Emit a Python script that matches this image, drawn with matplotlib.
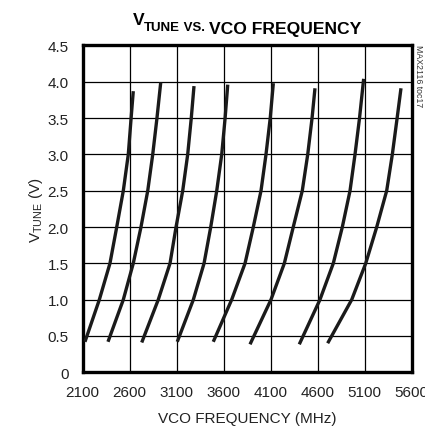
import numpy as np
import matplotlib
matplotlib.use('Agg')
import matplotlib.pyplot as plt

plt.rcParams['font.family'] = ['Liberation Sans Narrow', 'Liberation Sans', 'DejaVu Sans']

# VCO tuning curves: (frequency MHz, tuning voltage V)
vco_freq = [
    [2124, 2277, 2390, 2462, 2532, 2585, 2615, 2638],
    [2369, 2532, 2638, 2720, 2792, 2845, 2890, 2930],
    [2728, 2904, 3029, 3093, 3164, 3217, 3255, 3284],
    [3106, 3277, 3391, 3462, 3526, 3579, 3615, 3643],
    [3489, 3685, 3827, 3915, 3997, 4050, 4095, 4128],
    [3880, 4103, 4245, 4340, 4436, 4494, 4540, 4571],
    [4404, 4624, 4766, 4862, 4944, 4997, 5045, 5089],
    [4706, 4962, 5111, 5228, 5334, 5394, 5445, 5486],
]
vtune = [
    [0.42, 1.0, 1.5, 2.0, 2.5, 3.0, 3.5, 3.87],
    [0.42, 1.0, 1.5, 2.0, 2.5, 3.0, 3.5, 3.99],
    [0.41, 1.0, 1.5, 2.0, 2.5, 3.0, 3.5, 3.94],
    [0.42, 1.0, 1.5, 2.0, 2.5, 3.0, 3.5, 3.96],
    [0.42, 1.0, 1.5, 2.0, 2.5, 3.0, 3.5, 3.98],
    [0.385, 1.0, 1.5, 2.0, 2.5, 3.0, 3.5, 3.91],
    [0.385, 1.0, 1.5, 2.0, 2.5, 3.0, 3.5, 4.04],
    [0.40, 1.0, 1.5, 2.0, 2.5, 3.0, 3.5, 3.91],
]
xticks = [2100, 2600, 3100, 3600, 4100, 4600, 5100, 5600]
yticks = [0, 0.5, 1.0, 1.5, 2.0, 2.5, 3.0, 3.5, 4.0, 4.5]
ytick_labels = ['0', '0.5', '1.0', '1.5', '2.0', '2.5', '3.0', '3.5', '4.0', '4.5']

fig = plt.figure(figsize=(4.25, 4.31), dpi=100)
ax = fig.add_axes([0.1946, 0.1339, 0.9687 - 0.1946, 0.8923 - 0.1339])

for f, v in zip(vco_freq, vtune):
    ax.plot(f, v, color='#1a1a1a', lw=2.4, solid_capstyle='butt', zorder=3)

ax.set_xlim(2100, 5600)
ax.set_ylim(0, 4.5)
ax.set_xticks(xticks)
ax.set_yticks(yticks)
ax.set_yticklabels(ytick_labels)
ax.tick_params(length=0, labelsize=11, colors='#222222')
ax.tick_params(axis='x', pad=9)
ax.tick_params(axis='y', pad=10)
ax.grid(True, color='black', lw=0.9)
for s in ax.spines.values():
    s.set_linewidth(2.4)
    s.set_color('black')

ax.set_xlabel('VCO FREQUENCY (MHz)', fontsize=11, color='#222222', labelpad=9)
ax.set_ylabel(r'V$_{\mathregular{TUNE}}$ (V)', fontsize=11, color='#222222', labelpad=2)

# title built from pieces (subscript and small caps "VS.")
t1 = fig.text(0.312, 0.943, 'V', fontsize=12.6, fontweight='bold', va='baseline', ha='left')
t2 = ax.annotate('TUNE', xy=(1, 0), xycoords=t1, xytext=(0, -2.5), textcoords='offset points',
                 fontsize=9.5, fontweight='bold', va='baseline', ha='left')
t3 = ax.annotate(' VS. ', xy=(1, 0), xycoords=t2, xytext=(0, 2.5), textcoords='offset points',
                 fontsize=9.5, fontweight='bold', va='baseline', ha='left')
t4 = ax.annotate('VCO FREQUENCY', xy=(1, 0), xycoords=t3, fontsize=12.6, fontweight='bold',
                 va='baseline', ha='left')

fig.text(0.984, 0.895, 'MAX2116 toc17', rotation=-90, fontsize=6.3, color='#333333',
         ha='center', va='top')

fig.savefig('out.png', dpi=100)
